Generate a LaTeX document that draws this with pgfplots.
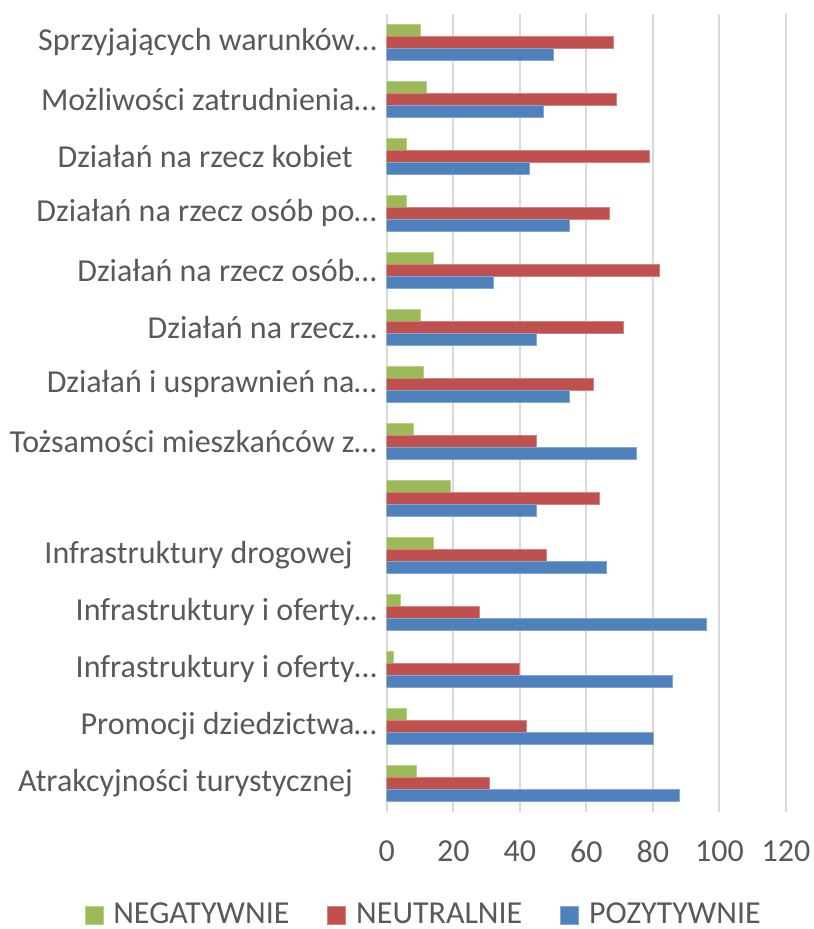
\documentclass[border=0pt]{standalone}
\usepackage{fontspec}
\setmainfont{Carlito}
\usepackage{pgfplots}
\usepackage{pgfplotstable}
\pgfplotsset{compat=1.18}

\definecolor{neg}{HTML}{9BBB59}
\definecolor{neu}{HTML}{C0504D}
\definecolor{poz}{HTML}{4F81BD}
\definecolor{txt}{HTML}{595959}
\definecolor{gridc}{HTML}{D9D9D9}

% y: 0 = bottom category
\pgfplotstableread{
y  neg neu poz
13 10  68  50
12 12  69  47
11  6  79  43
10  6  67  55
9  14  82  32
8  10  71  45
7  11  62  55
6   8  45  75
5  19  64  45
4  14  48  66
3   4  28  96
2   2  40  86
1   6  42  80
0   9  31  88
}\answers

\newcommand{\lbl}{\fontsize{16}{19}\selectfont\color{txt}}
\newcommand{\tail}{\rule{12pt}{0pt}}

\begin{document}
\begin{tikzpicture}
\useasboundingbox (-193.35pt,-58.6pt) rectangle (213.15pt,405.9pt);
\begin{axis}[
  at={(0,0)}, anchor=south west,
  scale only axis, width=199.65pt, height=399pt,
  xmin=0, xmax=120, ymin=-0.5, ymax=13.5,
  xtick={0,20,...,120},
  ytick={0,...,13},
  yticklabels={
    {Atrakcyjności turystycznej\tail},
    {Promocji dziedzictwa…},
    {Infrastruktury i oferty…},
    {Infrastruktury i oferty…},
    {Infrastruktury drogowej\tail},
    {},
    {Tożsamości mieszkańców z…},
    {Działań i usprawnień na…},
    {Działań na rzecz…},
    {Działań na rzecz osób…},
    {Działań na rzecz osób po…},
    {Działań na rzecz kobiet\tail},
    {Możliwości zatrudnienia…},
    {Sprzyjających warunków…}},
  /pgf/number format/assume math mode=true,
  xticklabel style={font=\lbl, yshift=-11pt},
  yticklabel style={font=\lbl, xshift=-1.5pt},
  major tick length=0pt,
  axis line style={draw=none},
  xmajorgrids, grid style={gridc, line width=1pt},
  xbar, bar width=0.2,
  legend columns=3,
  legend style={draw=none, fill=none, font=\lbl,
    at={(0.095,-0.1293)}, anchor=center,
    /tikz/every even column/.append style={column sep=17pt}},
  legend image code/.code={\fill[#1] (0pt,-4.5pt) rectangle (9pt,4.5pt);
    \path (12pt,0pt);},
]
\addplot[fill=neg, draw=neg!70!white, line width=0.4pt, bar shift=0.21]
  table[x=neg, y=y] {\answers};
\addlegendentry{NEGATYWNIE}
\addplot[fill=neu, draw=neu!70!white, line width=0.4pt, bar shift=0]
  table[x=neu, y=y] {\answers};
\addlegendentry{NEUTRALNIE}
\addplot[fill=poz, draw=poz!70!white, line width=0.4pt, bar shift=-0.21]
  table[x=poz, y=y] {\answers};
\addlegendentry{POZYTYWNIE}
\end{axis}
\end{tikzpicture}
\end{document}
